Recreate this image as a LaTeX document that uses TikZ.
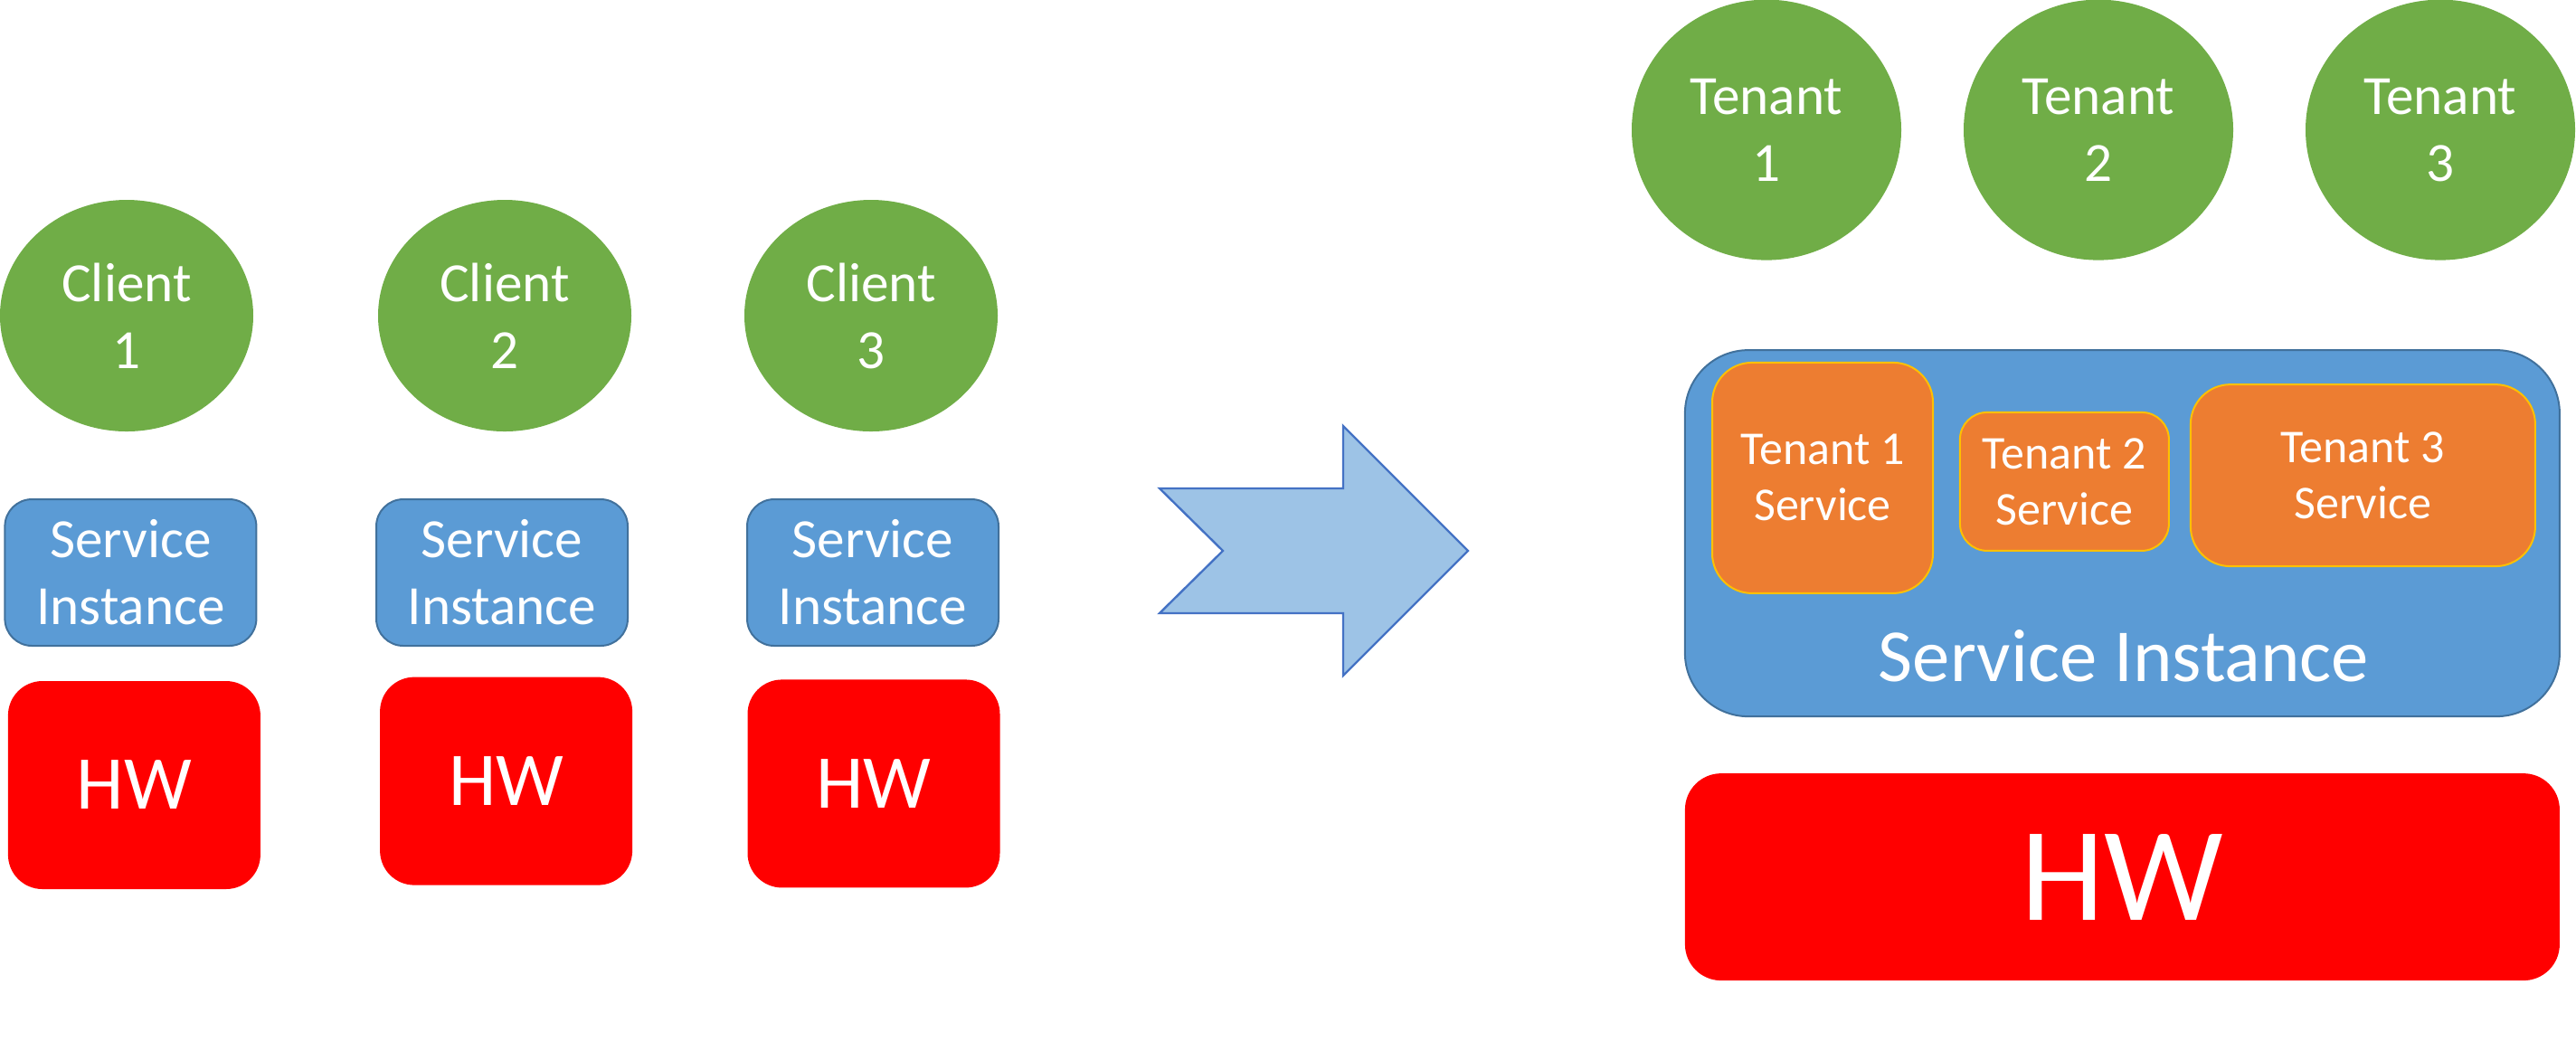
\documentclass[tikz,border=0pt]{standalone}
\usepackage{fontspec}
\setmainfont{Carlito}
\usetikzlibrary{shapes.geometric}
\definecolor{cgreen}{HTML}{70AD47}
\definecolor{cblue}{HTML}{5B9BD5}
\definecolor{cbluedraw}{HTML}{41719C}
\definecolor{cred}{HTML}{FF0000}
\definecolor{corange}{HTML}{ED7D31}
\definecolor{cgold}{HTML}{FFC000}
\definecolor{carrowfill}{HTML}{9DC3E6}
\definecolor{carrowdraw}{HTML}{4472C4}
\tikzset{
  txt/.style={text=white, align=center, inner sep=0pt},
  client/.style={txt, ellipse, fill=cgreen, minimum width=70pt, minimum height=64pt, font=\fontsize{15.3}{18.5}\selectfont},
  tenant/.style={txt, ellipse, fill=cgreen, minimum width=74.5pt, minimum height=72pt, font=\fontsize{15.3}{18.5}\selectfont},
  sibox/.style={txt, rectangle, rounded corners=7.5pt, fill=cblue, draw=cbluedraw, line width=0.5pt, minimum width=69.5pt, minimum height=40.5pt, font=\fontsize{15.3}{18.5}\selectfont},
  hwbox/.style={txt, rectangle, rounded corners=9.5pt, fill=cred, minimum width=69.75pt, minimum height=57.5pt, font=\fontsize{21}{25}\selectfont},
  tsvc/.style={txt, rectangle, fill=corange, draw=cgold, line width=0.5pt, font=\fontsize{13}{15.5}\selectfont},
}
\begin{document}
\begin{tikzpicture}
\useasboundingbox (0,0) rectangle (712pt,-287.5pt);
% left side
\node[client] (c1) at (35pt,-87.25pt) {Client\\1};
\node[client] (c2) at (139.5pt,-87.25pt) {Client\\2};
\node[client] (c3) at (240.75pt,-87.25pt) {Client\\3};
\node[sibox] (s1) at (36.1pt,-158.25pt) {Service\\Instance};
\node[sibox] (s2) at (138.75pt,-158.25pt) {Service\\Instance};
\node[sibox] (s3) at (241.25pt,-158.25pt) {Service\\Instance};
\node[hwbox] (h1) at (37.1pt,-217pt) {HW};
\node[hwbox] (h2) at (139.9pt,-215.9pt) {HW};
\node[hwbox] (h3) at (241.5pt,-216.6pt) {HW};
% arrow
\draw[fill=carrowfill, draw=carrowdraw, line width=0.6pt, line join=miter]
  (320.5pt,-135pt) -- (371.25pt,-135pt) -- (371.25pt,-117.75pt) -- (405.75pt,-152.25pt)
  -- (371.25pt,-186.75pt) -- (371.25pt,-169.5pt) -- (320.5pt,-169.5pt) -- (338pt,-152.25pt) -- cycle;
% right side
\node[tenant] (t1) at (488.25pt,-35.9pt) {Tenant\\1};
\node[tenant] (t2) at (580pt,-35.9pt) {Tenant\\2};
\node[tenant] (t3) at (674.5pt,-35.9pt) {Tenant\\3};
\node[rectangle, rounded corners=17.5pt, fill=cblue, draw=cbluedraw, line width=0.5pt, minimum width=241.75pt, minimum height=101.25pt] (big) at (586.6pt,-147.4pt) {};
\node[tsvc, rounded corners=11pt, minimum width=61pt, minimum height=63.75pt] (ts1) at (503.75pt,-132.1pt) {Tenant 1\\Service};
\node[tsvc, rounded corners=7.5pt, minimum width=57.75pt, minimum height=38.25pt] (ts2) at (570.6pt,-133.1pt) {Tenant 2\\Service};
\node[tsvc, rounded corners=11pt, minimum width=95.25pt, minimum height=50.25pt] (ts3) at (653.1pt,-131.4pt) {Tenant 3\\Service};
\node[txt, font=\fontsize{20.7}{25}\selectfont] (biglabel) at (587pt,-181.2pt) {Service Instance};
\node[txt, rectangle, rounded corners=10pt, fill=cred, minimum width=241.75pt, minimum height=57.25pt, font=\fontsize{37}{44}\selectfont] (hwbig) at (586.6pt,-242.4pt) {HW};
\end{tikzpicture}
\end{document}
